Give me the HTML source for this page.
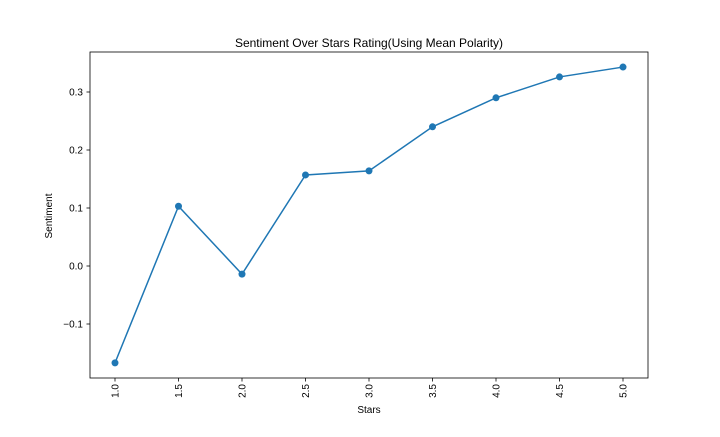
<!DOCTYPE html>
<html><head><meta charset="utf-8"><style>
body{margin:0;background:#fff;}
svg text{font-family:"Liberation Sans","DejaVu Sans",sans-serif;fill:#000;}
</style></head><body>
<svg id="chart" width="720" height="432">
<rect width="720" height="432" fill="#fff"/>
<text x="369" y="47" font-size="12" text-anchor="middle">Sentiment Over Stars Rating(Using Mean Polarity)</text>
<text x="369" y="413" font-size="10" text-anchor="middle">Stars</text>
<text transform="translate(52,216) rotate(-90)" font-size="10" text-anchor="middle">Sentiment</text>
<g id="axes"></g>
<rect x="90" y="52" width="558" height="326" fill="none" stroke="#000" stroke-width="0.8"/>
</svg>
<script>
const categories = [1.0,1.5,2.0,2.5,3.0,3.5,4.0,4.5,5.0];
const sentiment = [-0.167,0.103,-0.014,0.157,0.164,0.240,0.290,0.326,0.343];
const yTicks = [-0.1,0.0,0.1,0.2,0.3];
const yTickLabels = ["\u22120.1","0.0","0.1","0.2","0.3"];
const xTickLabels = ["1.0","1.5","2.0","2.5","3.0","3.5","4.0","4.5","5.0"];

const NS="http://www.w3.org/2000/svg";
const g=document.getElementById('axes');
function xs(v){return 115+(v-1)*127;}
function ys(v){return 266-v*580;}
function mk(t,a){const e=document.createElementNS(NS,t);for(const k in a)e.setAttribute(k,a[k]);g.appendChild(e);return e;}

yTicks.forEach((v,i)=>{
  const t=mk('line',{x1:86.5,x2:90,y1:ys(v),y2:ys(v),stroke:'#000','stroke-width':0.8});
  
  
  const l=mk('text',{x:83,y:ys(v)+3.5,'font-size':10,'text-anchor':'end'});
  l.textContent=yTickLabels[i];
  
  
});
categories.forEach((c,i)=>{
  const x=xs(c);
  const t=mk('line',{x1:x,x2:x,y1:378,y2:381.5,stroke:'#000','stroke-width':0.8});
  
  
  const l=mk('text',{transform:`translate(${x+3.5},384) rotate(-90)`,'font-size':10,'text-anchor':'end'});
  l.textContent=xTickLabels[i];
  
  
});
const pts=categories.map((c,i)=>xs(c)+','+ys(sentiment[i])).join(' ');
const line=mk('polyline',{points:pts,fill:'none',stroke:'#1f77b4','stroke-width':1.5});


categories.forEach((c,i)=>{
  const p=mk('circle',{cx:xs(c),cy:ys(sentiment[i]),r:3.5,fill:'#1f77b4'});
  
  
});
</script>
</body></html>
